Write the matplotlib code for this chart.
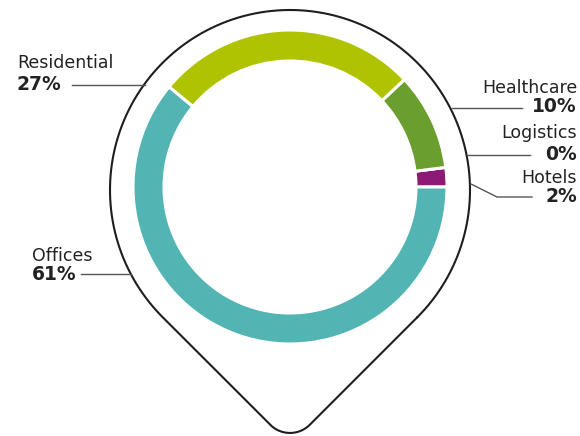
import numpy as np
from matplotlib import pyplot as plt

# data (counter-clockwise from 3 o'clock)
sectors = ["Hotels", "Logistics", "Healthcare", "Residential", "Offices"]
shares = [2, 0, 10, 27, 61]
colors = ["#8e1a78", "#4e7a2a", "#6a9e2f", "#afc300", "#52b5b3"]

W, H = 580, 436
fig = plt.figure(figsize=(5.8, 4.36), dpi=100)
ax = fig.add_axes([0, 0, 1, 1])

def py(y):
    # pixel row -> data y (y axis points up)
    return H - y

# donut
cx, cy, r = 290, py(187), 157
ax.pie(shares, colors=colors, radius=r, center=(cx, cy), startangle=0,
       counterclock=True,
       wedgeprops=dict(width=31, edgecolor="white", linewidth=2.2))

# pin outline
pcx, pcy, R = 290, py(190), 180
tip_y = pcy - R * np.sqrt(2)
rc = 28
rcy = tip_y + rc * np.sqrt(2)
big = np.radians(np.linspace(-45, 225, 300))
small = np.radians(np.linspace(225, 315, 60))
xs = np.concatenate([pcx + R * np.cos(big), pcx + rc * np.cos(small), [pcx + R * np.cos(big[0])]])
ys = np.concatenate([pcy + R * np.sin(big), rcy + rc * np.sin(small), [pcy + R * np.sin(big[0])]])
ax.plot(xs, ys, color="#1e1e1e", lw=1.5, solid_capstyle="round")

font = "DejaVu Sans"
txt = "#222222"
lc = "#555555"
fs_name, fs_pct = 12.5, 13.5

# left labels
ax.text(17, py(63), "Residential", ha="left", va="center", fontsize=fs_name, color=txt, family=font)
ax.text(17, py(84), f"{shares[3]}%", ha="left", va="center", fontsize=fs_pct, fontweight="bold", color=txt, family=font)
ax.plot([72, 145], [py(85), py(85)], color=lc, lw=1)

ax.text(32, py(256), "Offices", ha="left", va="center", fontsize=fs_name, color=txt, family=font)
ax.text(32, py(274), f"{shares[4]}%", ha="left", va="center", fontsize=fs_pct, fontweight="bold", color=txt, family=font)
ax.plot([81, 131], [py(274), py(274)], color=lc, lw=1)

# right labels
ax.text(577, py(88), "Healthcare", ha="right", va="center", fontsize=fs_name, color=txt, family=font)
ax.text(577, py(107), f"{shares[2]}%", ha="right", va="center", fontsize=fs_pct, fontweight="bold", color=txt, family=font)
ax.plot([452, 522], [py(108), py(108)], color=lc, lw=1)

ax.text(577, py(133), "Logistics", ha="right", va="center", fontsize=fs_name, color=txt, family=font)
ax.text(577, py(154), f"{shares[1]}%", ha="right", va="center", fontsize=fs_pct, fontweight="bold", color=txt, family=font)
ax.plot([467, 530], [py(155), py(155)], color=lc, lw=1)

ax.text(577, py(178), "Hotels", ha="right", va="center", fontsize=fs_name, color=txt, family=font)
ax.text(577, py(197), f"{shares[0]}%", ha="right", va="center", fontsize=fs_pct, fontweight="bold", color=txt, family=font)
ax.plot([471, 497, 532], [py(184), py(197), py(197)], color=lc, lw=1)

ax.set_xlim(0, W)
ax.set_ylim(0, H)
ax.set_aspect("equal")
ax.axis("off")

fig.savefig("out.png", dpi=100, facecolor="white")
